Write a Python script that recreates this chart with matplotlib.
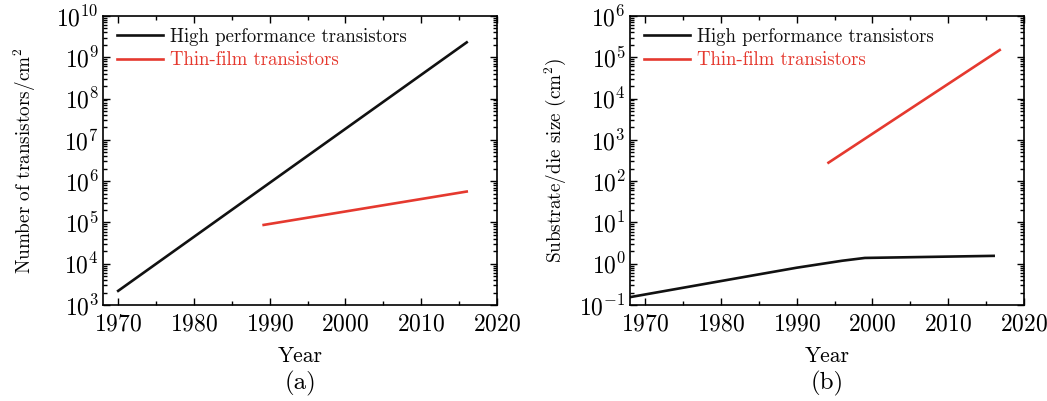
import matplotlib
matplotlib.use("Agg")
import matplotlib.pyplot as plt
from matplotlib.ticker import MultipleLocator, LogLocator, NullFormatter

plt.rcParams['font.family'] = ['cmr10']
plt.rcParams['mathtext.fontset'] = 'cm'
plt.rcParams['axes.formatter.use_mathtext'] = True

# (a) Number of transistors per cm^2
a_hp_year = [1970, 2016]
a_hp_val = [2.2e3, 2.3e9]
a_tft_year = [1989.2, 2016]
a_tft_val = [8.7e4, 5.6e5]

# (b) Substrate / die size
b_hp_year = [1968, 1980, 1990, 1996, 1999, 2016]
b_hp_val = [0.155, 0.38, 0.8, 1.18, 1.38, 1.55]
b_tft_year = [1994.2, 2016.8]
b_tft_val = [280, 1.5e5]

labels = ["High performance transistors", "Thin-film transistors"]
BLACK = "#111111"
RED = "#e5392f"

fig = plt.figure(figsize=(10.47, 4.01), dpi=100)
axA = fig.add_axes([0.0984, 0.2394, 0.3763, 0.7207])
axB = fig.add_axes([0.6017, 0.2394, 0.3763, 0.7207])

TICK_FS = 17
LEG_FS = 13.5

def style(ax, ylim, ylabel, tag, ylab_x):
    ax.set_yscale('log')
    ax.set_xlim(1968, 2020)
    ax.set_ylim(*ylim)
    ax.xaxis.set_major_locator(MultipleLocator(10))
    ax.xaxis.set_minor_locator(MultipleLocator(5))
    ax.yaxis.set_major_locator(LogLocator(base=10, numticks=20))
    ax.yaxis.set_minor_locator(LogLocator(base=10, subs=range(2, 10), numticks=20))
    ax.yaxis.set_minor_formatter(NullFormatter())
    ax.tick_params(which='both', direction='in', top=True, right=True, labelsize=TICK_FS, width=1.0)
    ax.tick_params(which='major', length=5)
    ax.tick_params(which='minor', length=3)
    ax.tick_params(axis='x', pad=6)
    ax.tick_params(axis='y', pad=3)
    for s in ax.spines.values():
        s.set_linewidth(1.2)
    ax.set_ylabel(ylabel, fontsize=13.8)
    ax.yaxis.set_label_coords(ylab_x, 0.5)
    ax.set_xlabel("Year", fontsize=15.5, va='top')
    ax.xaxis.set_label_coords(0.5, -0.145)
    ax.text(0.5, -0.27, tag, transform=ax.transAxes, ha='center', va='center', fontsize=18)
    leg = ax.legend(labels, loc='upper left', frameon=False, fontsize=LEG_FS,
                    handlelength=2.45, handletextpad=0.35, labelspacing=0.3,
                    borderaxespad=0.3, bbox_to_anchor=(0.003, 1.005))
    for t, c in zip(leg.get_texts(), [BLACK, RED]):
        t.set_color(c)

axA.plot(a_hp_year, a_hp_val, color=BLACK, lw=1.9)
axA.plot(a_tft_year, a_tft_val, color=RED, lw=1.9)
style(axA, (1e3, 1e10), "Number of transistors/cm$^2$", "(a)", -0.165)

axB.plot(b_hp_year, b_hp_val, color=BLACK, lw=1.9)
axB.plot(b_tft_year, b_tft_val, color=RED, lw=1.9)
style(axB, (1e-1, 1e6), "Substrate/die size (cm$^2$)", "(b)", -0.157)

fig.savefig("out.png", dpi=100)
